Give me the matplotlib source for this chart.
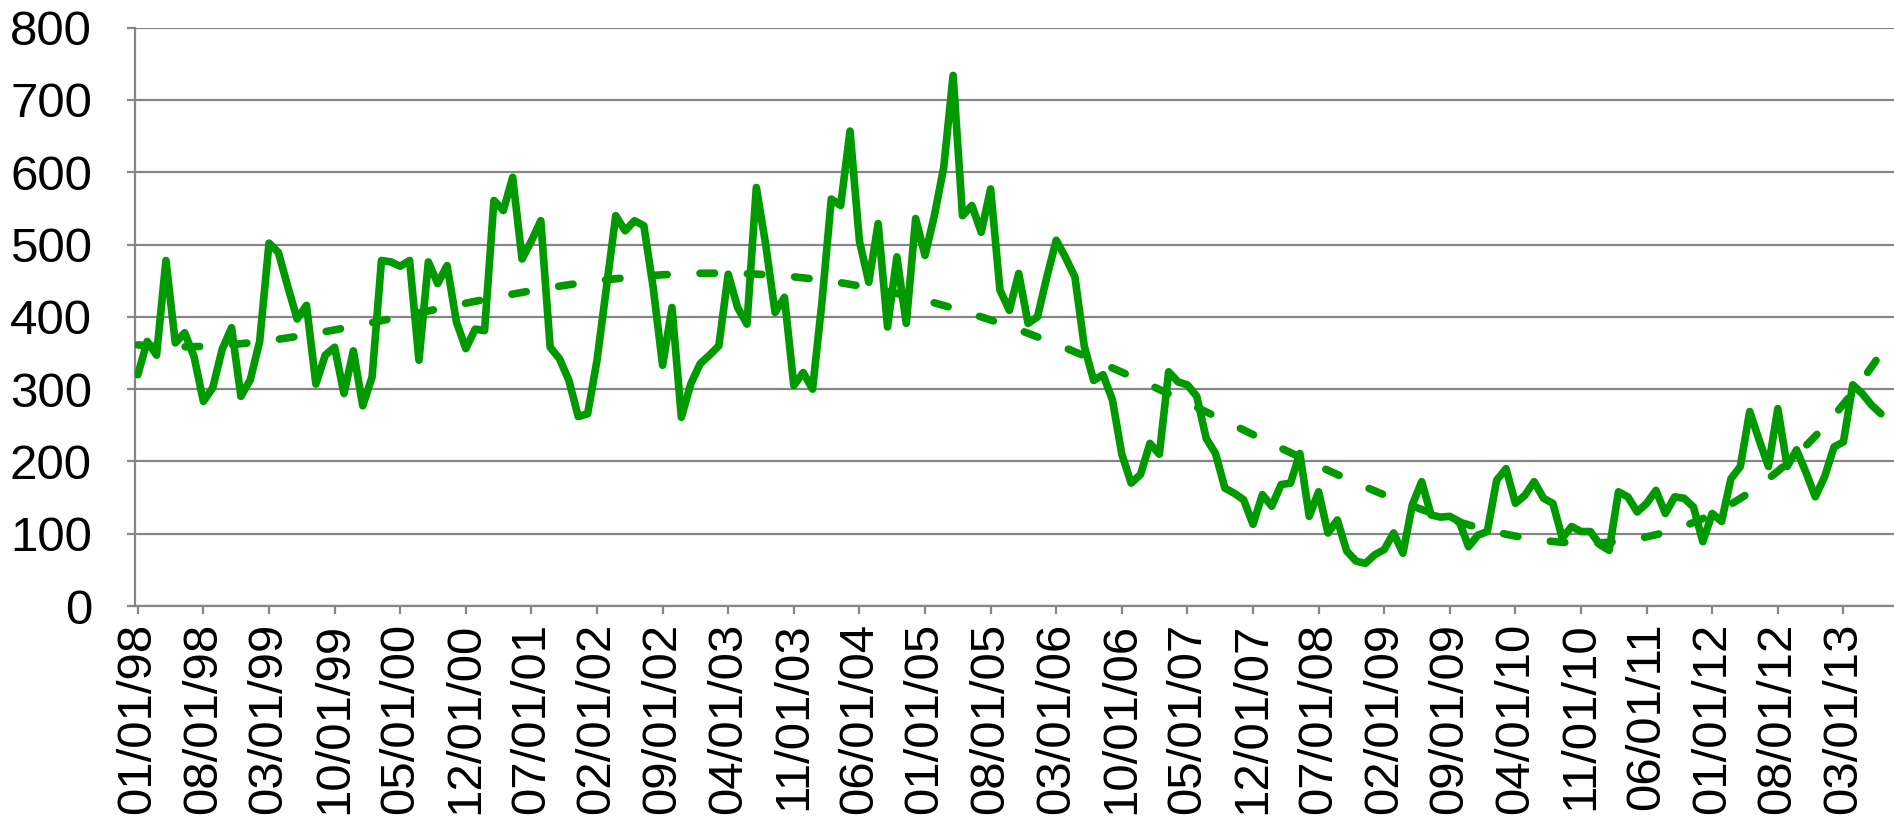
import numpy as np
import pandas as pd
import matplotlib
matplotlib.use("Agg")
import matplotlib.pyplot as plt

plt.rcParams["font.family"] = ["Liberation Sans", "DejaVu Sans"]

# monthly values, Jan 1998 onwards
values = [
    320, 366, 347, 478, 364, 378, 345, 283, 302, 355, 385, 290,
    313, 366, 502, 489, 442, 397, 416, 307, 347, 358, 294, 353,
    277, 317, 478, 476, 470, 478, 340, 476, 446, 471, 393, 356,
    383, 381, 561, 547, 593, 480, 505, 533, 358, 342, 312, 262,
    266, 340, 440, 540, 519, 533, 526, 440, 333, 413, 261, 307,
    335, 347, 360, 459, 413, 390, 579, 500, 406, 427, 305, 323,
    300, 420, 563, 554, 657, 505, 448, 529, 386, 483, 391, 536,
    485, 540, 607, 734, 540, 554, 517, 577, 437, 409, 460, 391,
    400, 455, 506, 482, 455, 359, 312, 320, 285, 210, 170, 182,
    225, 210, 324, 310, 306, 290, 232, 211, 163, 156, 147, 113,
    154, 138, 168, 170, 211, 124, 158, 101, 119, 76, 62, 59,
    71, 78, 101, 73, 140, 172, 126, 123, 124, 117, 82, 98,
    103, 174, 190, 142, 153, 172, 149, 142, 94, 110, 103, 103,
    85, 77, 158, 151, 130, 142, 160, 128, 151, 149, 137, 89,
    128, 117, 176, 193, 269, 230, 193, 273, 193, 216, 185, 151,
    179, 220, 227, 306, 294, 278, 266,
]
start_date = "1998-01-01"
label_every = 7
trend_order = 4

green = "#009900"
grey = "#868686"

dates = pd.date_range(start_date, periods=len(values), freq="MS")
x = np.arange(len(values))

fig = plt.figure(figsize=(18.94, 8.25), dpi=100)
ax = fig.add_axes([135 / 1894, 1 - 606 / 825, 1 - 135 / 1894, (606 - 27.7) / 825])

ax.plot(x, values, color=green, lw=5.5, solid_joinstyle="round",
        solid_capstyle="round", zorder=3)

# polynomial trend line like the spreadsheet one
xs = (x - x.mean()) / x.std()
coef = np.polyfit(xs, values, trend_order)
ax.plot(x, np.polyval(coef, xs), color=green, lw=5.5, dashes=(1.9, 4.3),
        dash_capstyle="round", zorder=3)

ax.set_xlim(-0.3, 187.4)
ax.set_ylim(0, 800)
ax.set_yticks(range(0, 801, 100))
ax.set_xticks(x[::label_every])
ax.set_xticklabels([d.strftime("%m/%d/%y") for d in dates[::label_every]], rotation=90)

ax.grid(axis="y", color=grey, lw=1.6)
ax.set_axisbelow(True)
for side in ["top", "right"]:
    ax.spines[side].set_visible(False)
for side in ["left", "bottom"]:
    ax.spines[side].set_color(grey)
    ax.spines[side].set_linewidth(1.6)

ax.tick_params(axis="both", labelsize=35.5, color=grey, length=6, width=1.6)
ax.tick_params(axis="y", pad=25)
ax.tick_params(axis="x", pad=6)

fig.savefig("out.png", dpi=100)
